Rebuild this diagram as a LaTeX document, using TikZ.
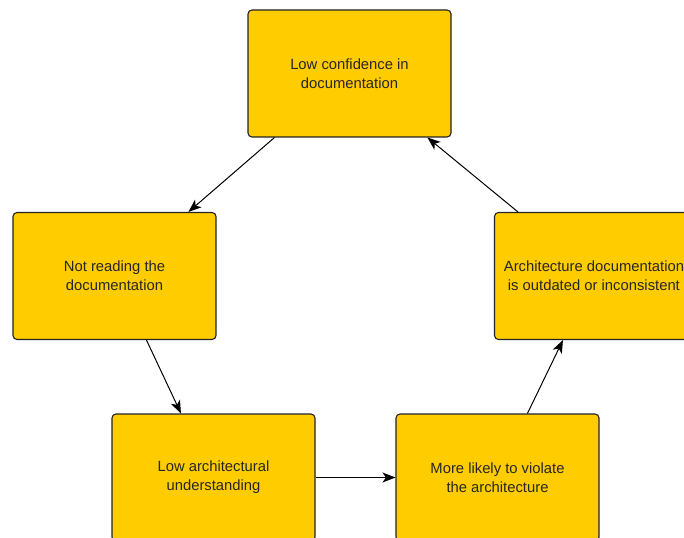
\documentclass[tikz,border=0pt]{standalone}
\usepackage{fontspec}
\setmainfont{Liberation Sans}
\usetikzlibrary{arrows.meta}
\definecolor{boxfill}{HTML}{FFCC00}
\definecolor{boxline}{HTML}{222222}
\tikzset{
  stepbox/.style={draw=boxline, fill=boxfill, line width=1.1bp, rounded corners=4bp,
    minimum width=203bp, minimum height=127bp, inner sep=0pt, align=center,
    font=\fontsize{14.8bp}{19bp}\selectfont, text=black!85},
  link/.style={draw=black, line width=1bp, -{Stealth[length=13bp, width=10bp, inset=3.5bp]}}
}
\begin{document}
\begin{tikzpicture}[x=1bp, y=-1bp]
  \useasboundingbox (0,0) rectangle (684,538);
  \clip (0,0) rectangle (684,538);
  % the five stages of the cycle
  \node[stepbox] (conf)  at (349.5, 73.5)  {Low confidence in\\documentation};
  \node[stepbox] (read)  at (114.5, 276)   {Not reading the\\documentation};
  \node[stepbox] (under) at (213.5, 477.5) {Low architectural\\understanding};
  \node[stepbox] (viol)  at (497.5, 477.5) {More likely to violate\\the architecture};
  \node[stepbox, align=left] (doc) at (596, 276)
    {\hspace*{-4bp}Architecture documentation\\\hspace*{0bp}is outdated or inconsistent};
  % cause-and-effect links
  \draw[link] ([xshift=27bp]conf.south west) -- ([xshift=176bp]read.north west);
  \draw[link] ([xshift=134bp]read.south west) -- ([xshift=69.5bp]under.north west);
  \draw[link] (under.east) -- (viol.west);
  \draw[link] ([xshift=132bp]viol.north west) -- ([xshift=69bp]doc.south west);
  \draw[link] ([xshift=24bp]doc.north west) -- ([xshift=180bp]conf.south west);
\end{tikzpicture}
\end{document}
